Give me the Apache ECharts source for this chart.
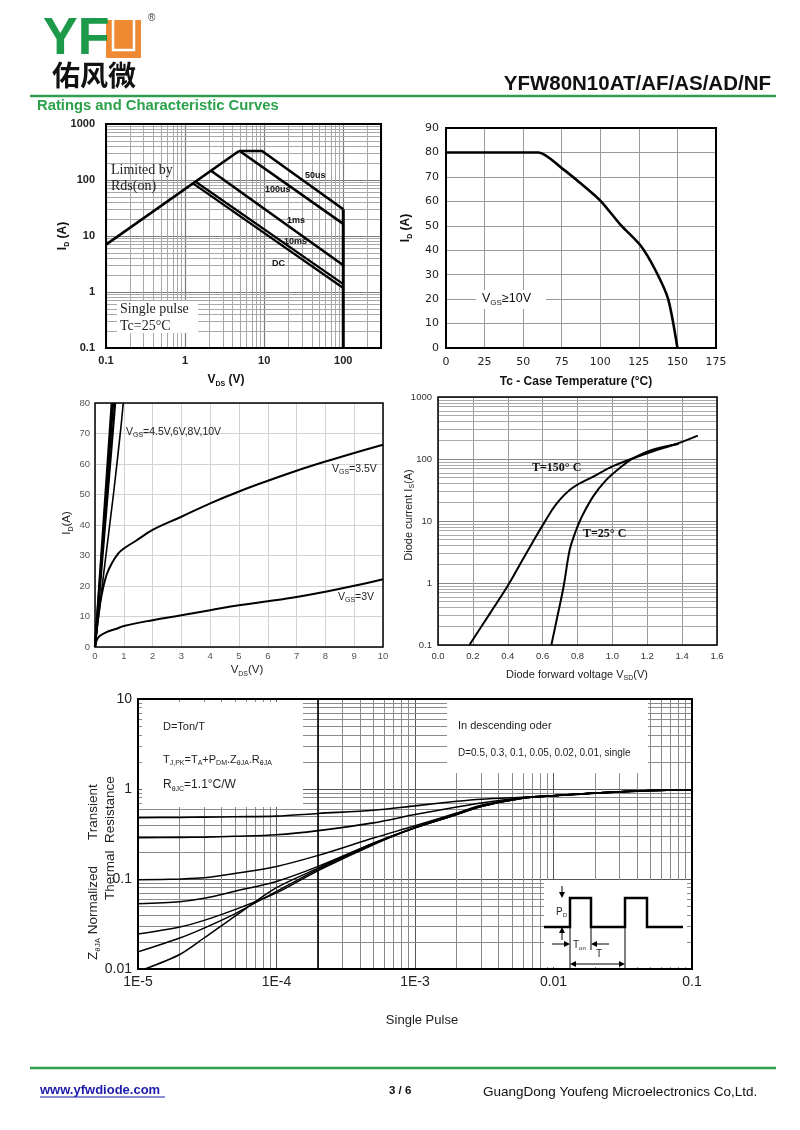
<!DOCTYPE html>
<html><head><meta charset="utf-8">
<script src="https://cdn.jsdelivr.net/npm/echarts@6/dist/echarts.min.js"></script>
<style>html,body{margin:0;padding:0;background:#fff}#c{width:800px;height:1130px}</style>
</head><body><div id="c"></div>
<script>
// ================= DATA =================
// Safe operating area (log-log)
const soaXLabels = ['0.1', '1', '10', '100'];
const soaYLabels = ['0.1', '1', '10', '100', '1000'];
const soaRdsLimit = [[0.1, 7.0], [4.8, 330]];
const soa50us = [[4.8, 330], [9.4, 330], [100, 30]];
const soa100us = [[5.0, 322], [100, 16.5]];
const soa1ms = [[2.15, 145], [100, 3.0]];
const soa10ms = [[1.36, 93], [100, 1.38]];
const soaDC = [[1.27, 86], [100, 1.18]];
const soaVmax = [[100, 30], [100, 0.1]];

// Current derating
const derTc = [0, 60, 75, 87, 100, 113, 126, 136, 144, 150];
const derId = [80, 80, 73.6, 67.5, 60.3, 50.5, 42, 31.5, 20, 0];

// Output characteristics
const outVgs10 = [[0, 0], [0.58, 80]];
const outVgs8 = [[0, 0], [0.63, 80]];
const outVgs6 = [[0, 0], [0.70, 80]];
const outVgs45 = [[0, 0], [0.30, 24], [0.64, 50], [0.90, 72], [0.98, 80]];
const outVgs35 = [[0, 0], [0.05, 5], [0.12, 10.4], [0.23, 17], [0.4, 23.6], [0.58, 27.4], [0.81, 30.7], [1.0, 32.3], [1.45, 35], [2, 38.4], [3, 42.7], [4, 47.1], [5, 51], [6, 54.5], [7, 57.8], [8, 60.8], [9, 63.6], [10, 66.3]];
const outVgs3 = [[0, 0], [0.05, 2], [0.15, 3.5], [0.4, 4.9], [0.75, 6.0], [1.0, 6.9], [2, 8.8], [3, 10.4], [4, 12.05], [5, 13.7], [6, 15], [7, 16.4], [8, 18.1], [9, 20.05], [10, 22.2]];

// Body diode forward characteristics
const diodeYLabels = ['0.1', '1', '10', '100', '1000'];
const diodeT150 = [[0.18, 0.1], [0.3, 0.33], [0.4, 0.9], [0.49, 2.5], [0.56, 5.5], [0.6, 8.5], [0.68, 19], [0.77, 34], [0.89, 52], [1.0, 76], [1.12, 103], [1.23, 132], [1.37, 176], [1.49, 238]];
const diodeT25 = [[0.65, 0.1], [0.68, 0.25], [0.72, 0.87], [0.755, 3.4], [0.785, 6.3], [0.82, 11], [0.89, 25], [0.965, 46], [1.04, 71], [1.12, 103], [1.23, 141], [1.38, 175]];

// Transient thermal impedance
const thXLabels = ['1E-5', '1E-4', '1E-3', '0.01', '0.1'];
const thYLabels = ['0.01', '0.1', '1', '10'];
const thT = [1e-5, 2e-5, 3e-5, 5e-5, 1e-4, 2e-4, 5e-4, 1e-3, 2e-3, 3e-3, 6e-3, 1e-2, 2e-2, 5e-2, 1e-1];
const zD50 = [0.48, 0.483, 0.487, 0.492, 0.50, 0.535, 0.58, 0.65, 0.73, 0.77, 0.81, 0.84, 0.90, 0.96, 0.98];
const zD30 = [0.288, 0.29, 0.292, 0.298, 0.31, 0.345, 0.42, 0.52, 0.63, 0.70, 0.80, 0.84, 0.90, 0.96, 0.98];
const zD10 = [0.098, 0.10, 0.103, 0.115, 0.138, 0.183, 0.285, 0.39, 0.54, 0.66, 0.80, 0.84, 0.90, 0.96, 0.98];
const zD05 = [0.053, 0.056, 0.061, 0.073, 0.094, 0.138, 0.25, 0.375, 0.53, 0.65, 0.80, 0.84, 0.90, 0.96, 0.98];
const zD02 = [0.0245, 0.0293, 0.0347, 0.0457, 0.070, 0.124, 0.24, 0.37, 0.52, 0.64, 0.79, 0.84, 0.90, 0.96, 0.98];
const zD01 = [0.0155, 0.0221, 0.0285, 0.041, 0.073, 0.128, 0.245, 0.37, 0.52, 0.64, 0.79, 0.84, 0.90, 0.96, 0.98];
const thTSingle = [1.12e-5, 2e-5, 3e-5, 5e-5, 1e-4, 2e-4, 5e-4, 1e-3, 2e-3, 3e-3, 6e-3, 1e-2, 2e-2, 5e-2, 1e-1];
const zSingle = [0.01, 0.0145, 0.0221, 0.0385, 0.08, 0.132, 0.25, 0.37, 0.52, 0.64, 0.79, 0.84, 0.90, 0.96, 0.98];

// ================= HELPERS =================
const SANS = 'Liberation Sans, Arial, sans-serif';
const NARROW = 'Liberation Sans Narrow, Liberation Sans, Arial, sans-serif';
const SERIF = 'Liberation Serif, Times New Roman, serif';
const VERD = 'DejaVu Sans, Verdana, sans-serif';

function zip(xs, ys) { return xs.map((x, i) => [x, ys[i]]); }
function minorVals(lo, hi) {
  const out = [];
  for (let e = Math.floor(Math.log10(lo) + 1e-9); e < Math.ceil(Math.log10(hi) - 1e-9); e++) {
    for (let m = 2; m <= 9; m++) {
      const v = +(m * Math.pow(10, e)).toPrecision(4);
      if (v > lo * 1.0001 && v < hi * 0.9999) out.push(v);
    }
  }
  return out;
}
function logFmt(labels, min) {
  const e0 = Math.round(Math.log10(min));
  return function (v) {
    const l = Math.log10(v);
    if (Math.abs(l - Math.round(l)) > 0.01) return '';
    return labels[Math.round(l) - e0] || '';
  };
}
function gridLines(gi, xs, ys, color, width) {
  return {
    type: 'line', xAxisIndex: gi, yAxisIndex: gi, data: [], silent: true, z: 1,
    markLine: {
      silent: true, animation: false, precision: 12, symbol: ['none', 'none'], label: { show: false }, z: 1,
      lineStyle: { color: color, width: width, type: 'solid' }, emphasis: { disabled: true },
      data: xs.map(v => ({ xAxis: v })).concat(ys.map(v => ({ yAxis: v })))
    }
  };
}
function curve(gi, data, width, smooth) {
  return {
    type: 'line', xAxisIndex: gi, yAxisIndex: gi, data: data, symbol: 'none', showSymbol: false,
    silent: true, smooth: smooth || false, z: 8, lineStyle: { color: '#000', width: width },
    emphasis: { disabled: true }
  };
}
function richSet(size, fam, weight, fill) {
  return {
    n: { fontSize: size, fontFamily: fam, fontWeight: weight, fill: fill, lineHeight: Math.round(size * 1.3), verticalAlign: 'middle' },
    s: { fontSize: Math.round(size * 0.62), fontFamily: fam, fontWeight: weight, fill: fill, lineHeight: Math.round(size * 0.7), verticalAlign: 'bottom' }
  };
}
function T(x, y, text, o) {
  o = o || {};
  const st = {
    text: text, fill: o.fill || '#000', fontSize: o.size || 12, fontFamily: o.family || SANS,
    fontWeight: o.weight || 'normal', textAlign: o.align || 'left', textVerticalAlign: o.va || 'middle'
  };
  if (o.rich) st.rich = o.rich;
  return { type: 'text', x: x, y: y, rotation: o.rot || 0, z: o.z || 16, silent: true, style: st };
}
function box(x1, y1, x2, y2, o) {
  o = o || {};
  return { type: 'rect', z: o.z || 15, silent: true, shape: { x: x1, y: y1, width: x2 - x1, height: y2 - y1 },
    style: { fill: o.fill || '#fff', stroke: o.stroke || null, lineWidth: o.lw || 0 } };
}
function pl(points, o) {
  o = o || {};
  return { type: 'polyline', z: o.z || 16, silent: true, shape: { points: points },
    style: { stroke: o.stroke || '#000', lineWidth: o.lw || 1, fill: null } };
}
function tri(points) {
  return { type: 'polygon', z: 16, silent: true, shape: { points: points }, style: { fill: '#000' } };
}

// ================= LAYOUT =================
const G = [
  { left: 106, top: 124, width: 275, height: 224 },   // SOA
  { left: 446, top: 128, width: 270, height: 220 },   // derating
  { left: 95, top: 403, width: 288, height: 244 },    // output
  { left: 438, top: 397, width: 279, height: 248 },   // diode
  { left: 138, top: 699, width: 554, height: 270 }    // thermal
];

function noLine() { return { z: 0, axisLine: { show: false }, axisTick: { show: false } }; }

const xAxes = [
  Object.assign(noLine(), { gridIndex: 0, type: 'log', logBase: 10, min: 0.1, max: 300,
    splitLine: { show: true, lineStyle: { color: '#7a7a7a', width: 1.2 } },
    axisLabel: { formatter: logFmt(soaXLabels, 0.1), margin: 7, fontSize: 11, fontWeight: 'bold', color: '#222', fontFamily: SANS, showMaxLabel: false } }),
  Object.assign(noLine(), { gridIndex: 1, type: 'value', min: 0, max: 175, interval: 25,
    splitLine: { show: true, lineStyle: { color: '#9a9a9a', width: 1 } },
    axisLabel: { margin: 9, fontSize: 11, color: '#222', fontFamily: VERD } }),
  Object.assign(noLine(), { gridIndex: 2, type: 'value', min: 0, max: 10, interval: 1,
    splitLine: { show: true, lineStyle: { color: '#d2d2d2', width: 1 } },
    axisLabel: { margin: 4, fontSize: 9.5, color: '#555', fontFamily: SANS } }),
  Object.assign(noLine(), { gridIndex: 3, type: 'value', min: 0, max: 1.6, interval: 0.2,
    splitLine: { show: true, lineStyle: { color: '#9a9a9a', width: 1 } },
    axisLabel: { margin: 6, fontSize: 9.5, color: '#333', fontFamily: NARROW, formatter: v => v.toFixed(1) } }),
  Object.assign(noLine(), { gridIndex: 4, type: 'log', logBase: 10, min: 1e-5, max: 0.1,
    splitLine: { show: true, lineStyle: { color: '#555', width: 1 } },
    axisLabel: { formatter: logFmt(thXLabels, 1e-5), margin: 6, fontSize: 14, color: '#222', fontFamily: SANS } })
];
const yAxes = [
  Object.assign(noLine(), { gridIndex: 0, type: 'log', logBase: 10, min: 0.1, max: 1000,
    splitLine: { show: true, lineStyle: { color: '#7a7a7a', width: 1.2 } },
    axisLabel: { formatter: logFmt(soaYLabels, 0.1), margin: 11, fontSize: 11, fontWeight: 'bold', color: '#222', fontFamily: SANS } }),
  Object.assign(noLine(), { gridIndex: 1, type: 'value', min: 0, max: 90, interval: 10,
    splitLine: { show: true, lineStyle: { color: '#9a9a9a', width: 1 } },
    axisLabel: { margin: 7, fontSize: 11, color: '#222', fontFamily: VERD } }),
  Object.assign(noLine(), { gridIndex: 2, type: 'value', min: 0, max: 80, interval: 10,
    splitLine: { show: true, lineStyle: { color: '#d2d2d2', width: 1 } },
    axisLabel: { margin: 5, fontSize: 9.5, color: '#555', fontFamily: SANS } }),
  Object.assign(noLine(), { gridIndex: 3, type: 'log', logBase: 10, min: 0.1, max: 1000,
    splitLine: { show: true, lineStyle: { color: '#888', width: 1 } },
    axisLabel: { formatter: logFmt(diodeYLabels, 0.1), margin: 6, fontSize: 9.5, color: '#333', fontFamily: NARROW } }),
  Object.assign(noLine(), { gridIndex: 4, type: 'log', logBase: 10, min: 0.01, max: 10,
    splitLine: { show: true, lineStyle: { color: '#555', width: 1 } },
    axisLabel: { formatter: logFmt(thYLabels, 0.01), margin: 6, fontSize: 14, color: '#222', fontFamily: SANS } })
];

const series = [
  // minor grid lines
  gridLines(0, minorVals(0.1, 300), minorVals(0.1, 1000), '#a8a8a8', 1),
  gridLines(3, [], minorVals(0.1, 1000), '#aaaaaa', 1),
  gridLines(4, minorVals(1e-5, 0.1), minorVals(0.01, 10), '#8a8a8a', 1),
  gridLines(4, [2e-4], [], '#000', 1.6),
  // SOA
  curve(0, soaRdsLimit, 2.6), curve(0, soa50us, 2.6), curve(0, soa100us, 2.6), curve(0, soa1ms, 2.6),
  curve(0, soa10ms, 2.2), curve(0, soaDC, 2.2), curve(0, soaVmax, 3),
  // derating
  curve(1, zip(derTc, derId), 2.6, 0.25),
  // output
  curve(2, outVgs10, 2.2), curve(2, outVgs8, 2.2), curve(2, outVgs6, 2.2), curve(2, outVgs45, 1.6, 0.3),
  curve(2, outVgs35, 2, 0.4), curve(2, outVgs3, 2, 0.4),
  // diode
  curve(3, diodeT150, 2, 0.4), curve(3, diodeT25, 2, 0.4),
  // thermal
  curve(4, zip(thT, zD50), 1.6, 0.3), curve(4, zip(thT, zD30), 1.6, 0.3), curve(4, zip(thT, zD10), 1.5, 0.3),
  curve(4, zip(thT, zD05), 1.5, 0.3), curve(4, zip(thT, zD02), 1.5, 0.3), curve(4, zip(thT, zD01), 1.5, 0.3),
  curve(4, zip(thTSingle, zSingle), 1.5, 0.3)
];

// ================= GRAPHICS (texts, frames, header) =================
const gfx = [];
// frames
G.forEach((g, i) => gfx.push({ type: 'rect', z: 18, silent: true,
  shape: { x: g.left, y: g.top, width: g.width, height: g.height },
  style: { fill: null, stroke: '#000', lineWidth: i === 2 || i === 3 ? 1.5 : 2 } }));

// header
gfx.push(T(43, 40, 'YF', { size: 52, weight: 'bold', fill: '#1d9a49', family: SANS }));
gfx.push(box(106, 20, 141, 58, { fill: '#ef8a32' }));
gfx.push(pl([[113, 20], [113, 50], [134, 50], [134, 20]], { stroke: '#fff', lw: 2.5 }));
gfx.push(T(148, 18, '®', { size: 10, fill: '#333' }));
gfx.push(T(52, 75, '佑风微', { size: 28, weight: 'bold', family: 'Noto Sans CJK SC', fill: '#111' }));
gfx.push(T(771, 84, 'YFW80N10AT/AF/AS/AD/NF', { size: 20.5, weight: 'bold', align: 'right', fill: '#111' }));
gfx.push(pl([[30, 96], [776, 96]], { stroke: '#2f9e4e', lw: 2.5 }));
gfx.push(T(37, 106, 'Ratings and Characteristic Curves', { size: 14.8, weight: 'bold', fill: '#2aa14a' }));

// footer
gfx.push(pl([[30, 1068], [776, 1068]], { stroke: '#2f9e4e', lw: 2.5 }));
gfx.push(T(40, 1090, 'www.yfwdiode.com', { size: 13, weight: 'bold', fill: '#1b1baa' }));
gfx.push(pl([[40, 1097], [165, 1097]], { stroke: '#1b1baa', lw: 1 }));
gfx.push(T(389, 1091, '3 / 6', { size: 11.5, weight: 'bold', fill: '#111' }));
gfx.push(T(483, 1092, 'GuangDong Youfeng Microelectronics Co,Ltd.', { size: 13.5, fill: '#111' }));

// SOA texts
const rB12 = richSet(12, SANS, 'bold', '#111');
gfx.push(T(63, 236, '{n|I}{s|D}{n| (A)}', { rot: Math.PI / 2, align: 'center', rich: rB12 }));
gfx.push(T(226, 380, '{n|V}{s|DS}{n| (V)}', { align: 'center', rich: rB12 }));
gfx.push(T(111, 170, 'Limited by', { size: 14, family: SERIF, fill: '#222' }));
gfx.push(T(111, 186, 'Rds(on)', { size: 14, family: SERIF, fill: '#222' }));
gfx.push(T(305, 176, '50us', { size: 9, weight: 'bold', fill: '#111' }));
gfx.push(T(265, 190, '100us', { size: 9, weight: 'bold', fill: '#111' }));
gfx.push(T(287, 221, '1ms', { size: 9, weight: 'bold', fill: '#111' }));
gfx.push(T(284, 242, '10ms', { size: 9, weight: 'bold', fill: '#111' }));
gfx.push(T(272, 264, 'DC', { size: 9, weight: 'bold', fill: '#111' }));
gfx.push(box(117, 301, 198, 333));
gfx.push(T(120, 309, 'Single pulse', { size: 14, family: SERIF, fill: '#222' }));
gfx.push(T(120, 326, 'Tc=25°C', { size: 14, family: SERIF, fill: '#222' }));

// derating texts
gfx.push(T(406, 228, '{n|I}{s|D}{n| (A)}', { rot: Math.PI / 2, align: 'center', rich: rB12 }));
gfx.push(T(576, 382, 'Tc - Case Temperature (°C)', { size: 12, weight: 'bold', align: 'center', fill: '#111' }));
gfx.push(box(476, 290, 546, 309));
gfx.push(T(482, 299, '{n|V}{s|GS}{n|≥10V}', { rich: richSet(12.5, SANS, 'normal', '#111') }));

// output texts
const r11 = richSet(11.5, SANS, 'normal', '#222');
gfx.push(T(67, 523, '{n|I}{s|D}{n|(A)}', { rot: Math.PI / 2, align: 'center', rich: r11 }));
gfx.push(T(247, 670, '{n|V}{s|DS}{n|(V)}', { align: 'center', rich: r11 }));
const r10 = richSet(10.5, SANS, 'normal', '#222');
gfx.push(T(126, 432, '{n|V}{s|GS}{n|=4.5V,6V,8V,10V}', { rich: r10 }));
gfx.push(T(332, 469, '{n|V}{s|GS}{n|=3.5V}', { rich: r10 }));
gfx.push(T(338, 597, '{n|V}{s|GS}{n|=3V}', { rich: r10 }));

// diode texts
gfx.push(T(409, 515, '{n|Diode current I}{s|S}{n|(A)}', { rot: Math.PI / 2, align: 'center', rich: richSet(11, SANS, 'normal', '#222') }));
gfx.push(T(577, 675, '{n|Diode forward voltage V}{s|SD}{n|(V)}', { align: 'center', rich: richSet(11, SANS, 'normal', '#222') }));
gfx.push(T(532, 468, 'T=150° C', { size: 12, weight: 'bold', family: SERIF, fill: '#111' }));
gfx.push(T(583, 534, 'T=25° C', { size: 12, weight: 'bold', family: SERIF, fill: '#111' }));

// thermal texts
gfx.push(box(142, 702, 303, 807));
gfx.push(box(447, 700, 648, 773));
const rT = richSet(11, SANS, 'normal', '#222');
gfx.push(T(163, 727, 'D=Ton/T', { size: 11, fill: '#222' }));
gfx.push(T(163, 760, '{n|T}{s|J,PK}{n|=T}{s|A}{n|+P}{s|DM}{n|.Z}{s|θJA}{n|.R}{s|θJA}', { rich: rT }));
gfx.push(T(163, 785, '{n|R}{s|θJC}{n|=1.1°C/W}', { rich: richSet(12, SANS, 'normal', '#222') }));
gfx.push(T(458, 726, 'In descending oder', { size: 11, fill: '#222' }));
gfx.push(T(458, 753, 'D=0.5, 0.3, 0.1, 0.05, 0.02, 0.01, single', { size: 10, fill: '#222' }));
gfx.push(T(422, 1020, 'Single Pulse', { size: 13, align: 'center', fill: '#222' }));
const rY = richSet(13.5, SANS, 'normal', '#222');
gfx.push(T(93, 960, '{n|Z}{s|θJA}{n| Normalized}', { rot: Math.PI / 2, rich: rY }));
gfx.push(T(93, 840, 'Transient', { rot: Math.PI / 2, size: 13.5, fill: '#222' }));
gfx.push(T(110, 900, 'Thermal', { rot: Math.PI / 2, size: 13.5, fill: '#222' }));
gfx.push(T(110, 843, 'Resistance', { rot: Math.PI / 2, size: 13.5, fill: '#222' }));
// inset pulse diagram
gfx.push(box(544, 880, 687, 967));
gfx.push(pl([[544, 927], [570, 927], [570, 898], [591, 898], [591, 927], [625, 927], [625, 898], [647, 898], [647, 927], [683, 927]], { lw: 2.5 }));
gfx.push(pl([[562, 886], [562, 893]], { lw: 1 }));
gfx.push(tri([[559, 892], [565, 892], [562, 898]]));
gfx.push(pl([[562, 940], [562, 932]], { lw: 1 }));
gfx.push(tri([[559, 933], [565, 933], [562, 927]]));
gfx.push(T(556, 912, '{n|P}{s|D}', { rich: richSet(10, SANS, 'normal', '#222') }));
gfx.push(pl([[552, 944], [565, 944]], { lw: 1 }));
gfx.push(tri([[564, 941], [564, 947], [570, 944]]));
gfx.push(pl([[609, 944], [596, 944]], { lw: 1 }));
gfx.push(tri([[597, 941], [597, 947], [591, 944]]));
gfx.push(T(573, 945, '{n|T}{s|on}', { rich: richSet(10, SANS, 'normal', '#222') }));
gfx.push(pl([[591, 927], [591, 950]], { lw: 1 }));
gfx.push(pl([[570, 927], [570, 968]], { lw: 1 }));
gfx.push(pl([[625, 927], [625, 968]], { lw: 1 }));
gfx.push(T(596, 954, 'T', { size: 10, fill: '#222' }));
gfx.push(pl([[576, 964], [619, 964]], { lw: 1 }));
gfx.push(tri([[576, 961], [576, 967], [570, 964]]));
gfx.push(tri([[619, 961], [619, 967], [625, 964]]));

const option = {
  animation: false,
  backgroundColor: '#fff',
  grid: G.map(g => Object.assign({ containLabel: false, show: false }, g)),
  xAxis: xAxes,
  yAxis: yAxes,
  series: series,
  graphic: { elements: gfx }
};
const chart = echarts.init(document.getElementById('c'), null, { renderer: 'canvas', width: 800, height: 1130 });
chart.setOption(option);
</script>
</body></html>
